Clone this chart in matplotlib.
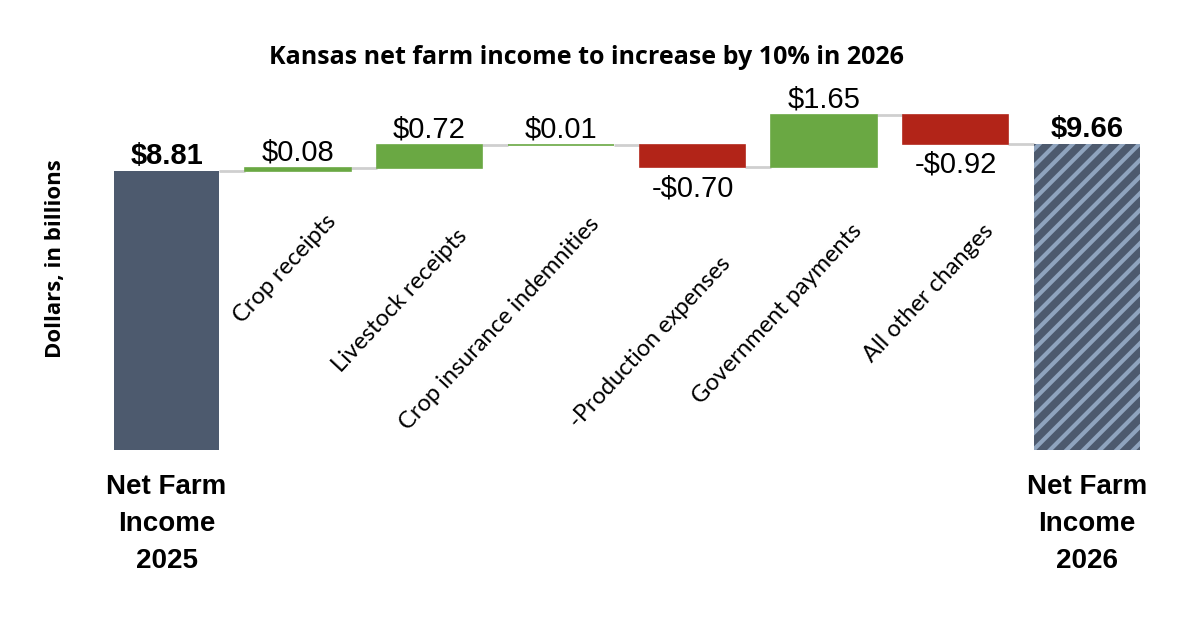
import matplotlib
matplotlib.use('Agg')
import matplotlib.pyplot as plt

# data
title = 'Kansas net farm income to increase by 10% in 2026'
start_value = 8.81
end_value = 9.66
start_label = 'Net Farm\nIncome\n2025'
end_label = 'Net Farm\nIncome\n2026'
categories = ['Crop receipts', 'Livestock receipts', 'Crop insurance indemnities',
              '-Production expenses', 'Government payments', 'All other changes']
changes = [0.08, 0.72, 0.01, -0.70, 1.65, -0.92]

# layout of the slanted category labels (top of label, in data units)
cat_label_top = [7.55, 7.10, 7.45, 6.20, 7.25, 7.25]

slate = '#4d5a6e'
green = '#6aa843'
red = '#b22418'
connector = '#cfcfcf'

plt.rcParams['hatch.linewidth'] = 3
plt.rcParams['hatch.color'] = '#8fa4be'

fig = plt.figure(figsize=(12, 6.22), dpi=100)
ax = fig.add_axes([0.084, 0.2765, 0.8767, 0.561])

n = len(changes) + 2
w = 0.8

# start bar
ax.bar(0, start_value, width=w, color=slate, zorder=2)
ax.text(0, start_value + 0.02, f'${start_value:.2f}', ha='center', va='bottom',
        fontsize=21, fontweight='bold', family='Liberation Sans')

running = start_value
levels = [start_value]
for i, d in enumerate(changes, start=1):
    col = green if d >= 0 else red
    ax.bar(i, d, bottom=running, width=w, color=col, edgecolor=col,
           linewidth=1.2, zorder=2)
    if d >= 0:
        ax.text(i, running + d + 0.05, f'${d:.2f}', ha='center', va='bottom',
                fontsize=21, family='Liberation Sans')
    else:
        ax.text(i, running + d - 0.22, f'-${abs(d):.2f}', ha='center', va='top',
                fontsize=21, family='Liberation Sans')
    running += d
    levels.append(running)
    ax.text(i + w / 2 - 0.08, cat_label_top[i - 1], categories[i - 1],
            rotation=47, ha='right', va='top', fontsize=17, family='Lato')

# end bar
ax.bar(n - 1, end_value, width=w, color=slate, hatch='//', edgecolor='#8fa4be',
       linewidth=0, zorder=2)
ax.text(n - 1, end_value + 0.02, f'${end_value:.2f}', ha='center', va='bottom',
        fontsize=21, fontweight='bold', family='Liberation Sans')
if abs(levels[-1] - end_value) < 0.02:
    levels[-1] = end_value

# connectors
for i in range(n - 1):
    ax.plot([i + w / 2, i + 1 - w / 2], [levels[i], levels[i]], color=connector,
            lw=2, zorder=1, solid_capstyle='butt')

# bottom labels for totals
for x, lab in [(0, start_label), (n - 1, end_label)]:
    ax.text(x, -0.75, lab, ha='center', va='top', fontsize=20, fontweight='bold',
            family='Liberation Sans', linespacing=1.56)

ax.set_xlim(-0.5, n - 0.5)
ax.set_ylim(0, 11)
ax.axis('off')

fig.text(0.489, 0.908, title, ha='center', va='center', fontsize=18,
         fontweight='bold', family='Open Sans')
fig.text(0.046, 0.584, 'Dollars, in billions', rotation=90, ha='center', va='center',
         fontsize=16, fontweight='bold', family='Open Sans')

fig.savefig('out.png', dpi=100, facecolor='white')
